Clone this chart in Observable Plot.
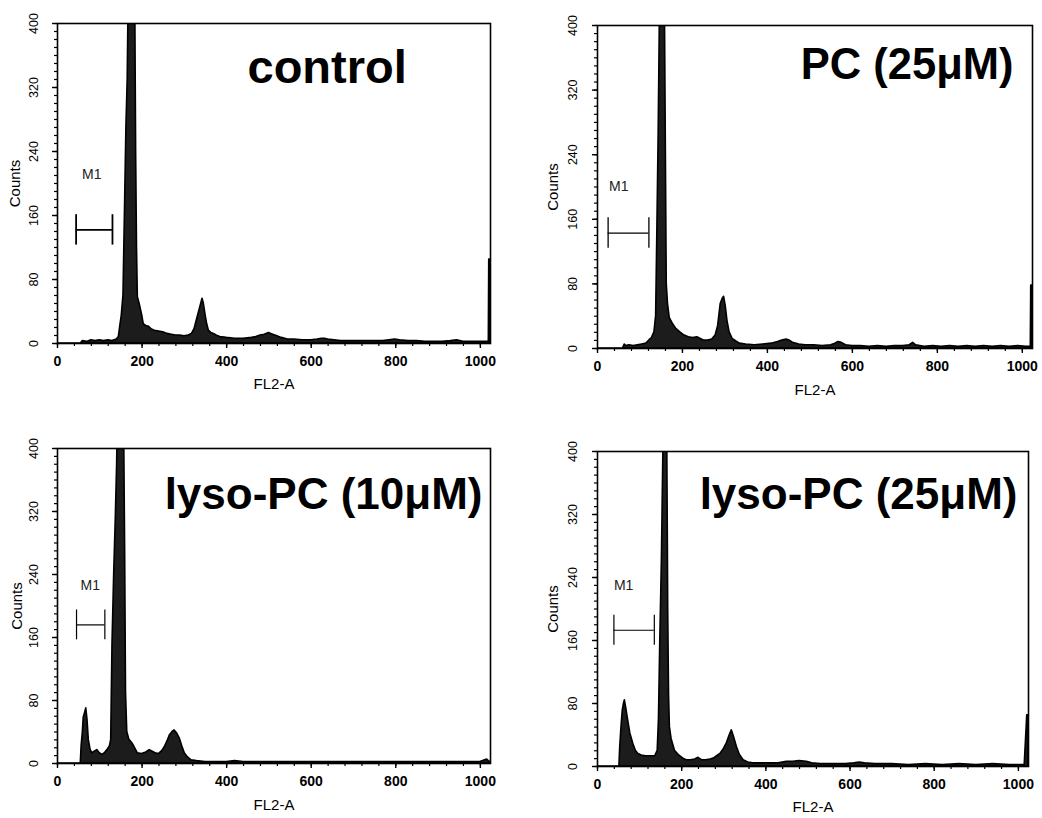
<!DOCTYPE html>
<html><head><meta charset="utf-8">
<script src="https://cdn.jsdelivr.net/npm/d3@7"></script>
<script src="https://cdn.jsdelivr.net/npm/@observablehq/plot@0.6"></script>
<style>
body{margin:0;background:#fff;}
#root{position:relative;width:1042px;height:818px;overflow:hidden;background:#fff;}
.panel{position:absolute;}
</style></head><body>
<div id="root"></div>
<script>
// ---- data ----
const xTicks = [0, 200, 400, 600, 800, 1000];
const yTicks = [0, 80, 160, 240, 320, 400];
const panelTitles = ["control", "PC (25μM)", "lyso-PC (10μM)", "lyso-PC (25μM)"];
const xAxisLabel = "FL2-A";
const yAxisLabel = "Counts";
const markerName = "M1";

const ctrlX = [0,55,60,70,80,90,100,110,120,130,140,145,148,152,156,160,163,166,170,175,180,184,186,188,190,194,200,204,210,216,222,230,240,250,260,270,280,290,300,310,318,324,330,336,340,343,346,350,354,358,364,370,376,385,400,420,440,460,470,480,490,500,510,520,530,545,560,580,600,615,625,632,640,655,670,690,710,730,750,770,785,798,810,830,850,870,890,910,930,945,960,980,1000,1015,1020,1021,1023];
const ctrlY = [0,0,3,2,4,3,4,3,4,3,5,8,20,35,60,180,272,330,520,560,500,420,237,120,58,50,36,24,22,21,18,16,15,14,12,11,10,10,9,10,12,18,30,42,50,56,50,36,24,16,13,12,10,8,7,6,6,7,8,10,11,13,11,9,7,5,5,4,4,5,6,6,5,4,3,3,3,3,3,3,4,5,4,3,3,2,2,2,3,4,2,2,2,2,2,105,105];

const pcX = [0,60,64,68,75,85,95,105,115,122,128,134,138,141,144,147,152,156,159,161,163,166,170,178,186,195,205,215,225,235,242,250,260,270,278,284,290,295,298,302,306,311,318,326,335,350,370,390,410,425,435,445,452,460,475,490,510,530,550,560,567,575,585,600,620,640,660,680,700,720,735,743,750,770,790,810,830,850,870,890,910,930,950,970,990,1010,1020,1021,1023];
const pcY = [0,0,5,3,4,3,4,5,6,10,13,20,40,150,268,420,560,480,400,240,80,55,38,30,24,20,16,14,13,14,12,10,10,11,16,28,55,62,64,52,34,20,12,9,6,5,4,5,6,8,10,11,10,7,5,4,4,3,4,6,8,7,4,3,3,2,3,2,3,3,4,7,4,2,3,2,3,2,3,2,3,2,3,2,3,2,2,78,78];

const lyso10X = [0,55,57,60,62,65,68,71,74,78,82,88,94,100,106,112,118,124,127,130,134,138,141,145,150,155,158,160,162,165,170,178,185,190,200,210,218,225,232,240,248,254,260,266,272,277,283,289,295,301,308,317,330,350,380,400,420,440,500,560,620,700,780,860,940,1000,1016,1020,1023];
const lyso10Y = [0,0,22,40,58,64,70,55,30,18,13,15,17,13,11,13,17,22,30,150,240,314,380,520,560,500,400,267,90,40,30,25,18,13,12,14,17,15,13,12,16,21,28,36,40,42,38,32,22,13,8,4,3,2,2,2,3,2,2,2,2,2,2,2,2,2,5,3,2];

const lyso25X = [0,52,54,57,60,63,65,68,73,78,85,91,97,105,115,125,137,143,146,149,153,157,161,165,167,168,170,172,176,184,194,204,212,222,232,240,248,258,268,276,284,292,300,307,313,319,324,331,338,347,358,370,390,410,430,450,465,480,497,510,530,560,590,610,623,635,660,700,740,780,820,860,900,940,980,1015,1021,1023];
const lyso25Y = [0,0,25,50,71,80,84,75,58,42,29,20,16,14,13,13,13,20,60,156,262,420,560,480,300,198,90,50,35,20,14,10,8,8,9,11,8,8,9,10,13,16,22,29,38,46,38,25,15,8,5,4,4,4,4,6,6,7,6,4,3,3,3,4,5,4,3,3,2,3,2,3,2,3,2,2,65,65];

// M1 gate ranges (FL2-A channels)
const m1Start = [44, 25, 45, 39];
const m1End = [130, 121, 112, 135];

const seriesX = [ctrlX, pcX, lyso10X, lyso25X];
const seriesY = [ctrlY, pcY, lyso10Y, lyso25Y];

// ---- layout ----
const layout = [
  {left:0,   top:0,   w:520, h:400, ml:57, mr:30, mt:23, mb:57, yLabDx:-24, countsDx:-42, flDy:41, tAnchor:"top-left",  tDx:190, tDy:59, tText:"start", tSize:47, barY:142, labY:211, labDx:6, barW:1.8},
  {left:520, top:0,   w:522, h:400, ml:77, mr:10, mt:25, mb:52, yLabDx:-25, countsDx:-44, flDy:42, tAnchor:"top-right", tDx:-19, tDy:53, tText:"end",   tSize:43.5, barY:143, labY:201, labDx:1, barW:1.3},
  {left:0,   top:410, w:520, h:408, ml:57, mr:30, mt:38, mb:55, yLabDx:-24, countsDx:-40, flDy:42, tAnchor:"top-right", tDx:-8,  tDy:60, tText:"end",   tSize:44, barY:176, labY:226, labDx:4, barW:1.2},
  {left:520, top:410, w:522, h:408, ml:77, mr:14, mt:41, mb:52, yLabDx:-25, countsDx:-44, flDy:41, tAnchor:"top-right", tDx:-11, tDy:57, tText:"end",   tSize:44, barY:173, labY:230, labDx:0, barW:1.2}
];

const font = "'Liberation Sans', Arial, Helvetica, sans-serif";
const minorX = d3.range(0, 1025, 40);
const minorY = d3.range(0, 401, 10);
const root = document.getElementById("root");

layout.forEach((c, i) => {
  const data = seriesX[i].map((x, j) => ({ch: x, count: seriesY[i][j]}));
  const gate = [{a: m1Start[i], b: m1End[i]}];
  const plot = Plot.plot({
    width: c.w, height: c.h,
    marginLeft: c.ml, marginRight: c.mr, marginTop: c.mt, marginBottom: c.mb,
    x: {domain: [0, 1024], label: null},
    y: {domain: [0, 400], label: null},
    style: {fontFamily: font, background: "white", color: "black", overflow: "visible"},
    marks: [
      Plot.areaY(data, {x: "ch", y: "count", fill: "#1c1c1c", stroke: "#000", strokeWidth: 1.6, clip: true}),
      Plot.frame({stroke: "#000", strokeWidth: 1.6}),
      Plot.axisX({ticks: minorX, tickSize: 3, tickFormat: () => "", label: null, strokeWidth: 1.2}),
      Plot.axisX({ticks: xTicks, tickSize: 5, tickPadding: 8, fontSize: 14, fontWeight: "bold", label: null, tickFormat: d => String(d), strokeWidth: 1.4}),
      Plot.axisY({ticks: minorY, tickSize: 3, tickFormat: () => "", label: null, strokeWidth: 1.2}),
      Plot.axisY({ticks: yTicks, tickSize: 5, tickFormat: () => "", label: null, strokeWidth: 1.4}),
      Plot.text(yTicks, {y: d => d, text: d => String(d), frameAnchor: "left", dx: c.yLabDx, rotate: -90, fontSize: 12.5, textAnchor: "middle", lineAnchor: "middle"}),
      Plot.text([yAxisLabel], {text: d => d, frameAnchor: "left", dx: c.countsDx, rotate: -90, fontSize: 15, textAnchor: "middle", lineAnchor: "middle"}),
      Plot.text([xAxisLabel], {text: d => d, frameAnchor: "bottom", dy: c.flDy, fontSize: 15, lineAnchor: "middle"}),
      Plot.ruleY(gate, {x1: "a", x2: "b", y: () => c.barY, stroke: "#000", strokeWidth: c.barW}),
      Plot.ruleX([m1Start[i], m1End[i]], {x: d => d, y1: () => c.barY - 19, y2: () => c.barY + 19, stroke: "#000", strokeWidth: c.barW}),
      Plot.text([markerName], {text: d => d, x: () => m1Start[i], y: () => c.labY, dx: c.labDx, textAnchor: "start", lineAnchor: "middle", fontSize: 14, fill: "#222"}),
      Plot.text([panelTitles[i]], {text: d => d, frameAnchor: c.tAnchor, dx: c.tDx, dy: c.tDy, textAnchor: c.tText, lineAnchor: "bottom", fontSize: c.tSize, fontWeight: "bold"})
    ]
  });
  const div = document.createElement("div");
  div.className = "panel";
  div.style.left = c.left + "px";
  div.style.top = c.top + "px";
  div.appendChild(plot);
  root.appendChild(div);
});
</script>
</body></html>
